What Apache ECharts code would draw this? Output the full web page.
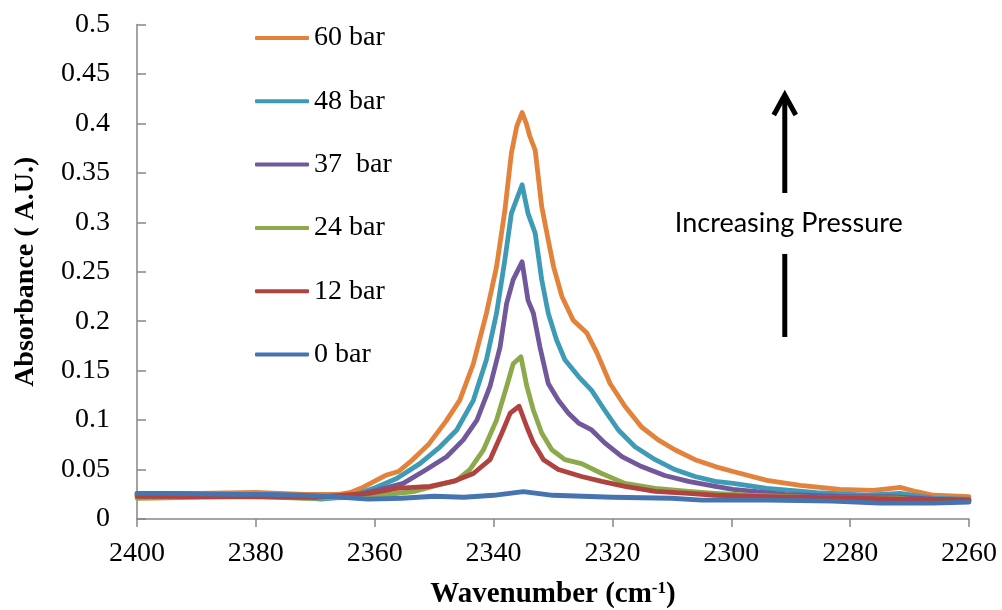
<!DOCTYPE html>
<html>
<head>
<meta charset="utf-8">
<script src="https://cdn.jsdelivr.net/npm/echarts@6/dist/echarts.min.js"></script>
<style>html,body{margin:0;padding:0;background:#fff;}#c{width:1002px;height:610px;}</style>
</head>
<body>
<div id="c"></div>
<script>
// ---- data ----
const seriesNames = ['60 bar', '48 bar', '37  bar', '24 bar', '12 bar', '0 bar'];
const seriesColors = ['#E3823B', '#3E9BB5', '#71589A', '#8CAA4B', '#B0433F', '#4574B0'];

const wn60 = [2400,2390,2380,2372,2366,2364,2362,2358,2356,2354,2351,2348,2345.7,2343.4,2341.2,2339.5,2338.1,2337.0,2336.1,2335.2,2334.5,2333.9,2333.0,2331.9,2330.8,2329.9,2328.5,2326.6,2324.3,2322.6,2320.4,2317.9,2315.1,2312.3,2309.5,2306.1,2302.7,2299.7,2294,2288.4,2281.7,2276.1,2273,2271.6,2268.8,2266,2260];
const abs60 = [0.026,0.026,0.027,0.025,0.025,0.027,0.032,0.0445,0.048,0.058,0.075,0.099,0.120,0.157,0.208,0.255,0.312,0.370,0.397,0.411,0.400,0.387,0.373,0.316,0.282,0.255,0.225,0.201,0.188,0.168,0.137,0.114,0.093,0.080,0.070,0.060,0.053,0.048,0.039,0.034,0.030,0.029,0.031,0.032,0.0276,0.024,0.0225];

const wn48 = [2400,2385,2375,2369,2364,2360.2,2356.3,2352.4,2349,2346.2,2343.4,2341.2,2339.5,2338.1,2337.0,2335.2,2334.2,2333.0,2331.9,2330.8,2329.4,2328.0,2325.7,2323.5,2321.3,2319.0,2316.2,2312.8,2309.5,2306.1,2302.7,2299.7,2294,2285.6,2277.2,2271.6,2266,2260];
const abs48 = [0.025,0.025,0.023,0.020,0.023,0.031,0.041,0.056,0.073,0.090,0.120,0.161,0.208,0.262,0.309,0.338,0.309,0.289,0.242,0.208,0.181,0.161,0.144,0.130,0.110,0.090,0.073,0.060,0.050,0.043,0.038,0.036,0.031,0.0266,0.024,0.026,0.021,0.020];

const wn37 = [2400,2385,2372,2364,2359.7,2355.2,2351.3,2347.9,2345.1,2342.8,2340.6,2338.9,2337.8,2336.7,2335.2,2334.2,2333.3,2332.2,2330.8,2329.1,2327.4,2325.7,2323.5,2321.3,2318.4,2315.1,2311.2,2307.2,2302.7,2299.7,2291,2280,2273,2266,2260];
const abs37 = [0.024,0.024,0.022,0.023,0.029,0.036,0.050,0.063,0.080,0.100,0.134,0.174,0.218,0.242,0.260,0.221,0.208,0.174,0.137,0.120,0.107,0.097,0.090,0.077,0.063,0.053,0.044,0.038,0.033,0.030,0.025,0.0225,0.0225,0.020,0.019];

const wn24 = [2400,2390,2380,2372,2362,2353.5,2349.6,2346.2,2344,2341.7,2339.5,2337.8,2336.7,2335.4,2334.4,2333.3,2331.9,2330.2,2328,2325.2,2321.8,2317.9,2312.8,2307.2,2302.7,2297,2283,2272,2266,2260];
const abs24 = [0.021,0.022,0.023,0.021,0.022,0.0276,0.034,0.039,0.050,0.070,0.100,0.134,0.157,0.164,0.134,0.110,0.087,0.070,0.060,0.056,0.046,0.036,0.031,0.028,0.026,0.024,0.021,0.021,0.017,0.018];

const wn12 = [2400,2380,2370,2361,2356.3,2350.7,2346.8,2343.4,2340.6,2338.6,2337.2,2335.7,2334.4,2333.3,2331.6,2329.1,2325.2,2321.8,2317.9,2312.8,2307.2,2302.7,2294,2280,2270,2260];
const abs12 = [0.023,0.0225,0.022,0.026,0.031,0.033,0.038,0.046,0.060,0.087,0.107,0.114,0.093,0.077,0.060,0.050,0.043,0.038,0.033,0.028,0.026,0.024,0.0225,0.021,0.020,0.019];

const wn0 = [2400,2394.7,2383.5,2377.9,2372.3,2366.7,2361.1,2355.5,2350,2345,2340,2335,2330,2320,2310,2305,2294,2283,2275,2266,2260];
const abs0 = [0.026,0.026,0.025,0.025,0.024,0.0225,0.020,0.021,0.023,0.022,0.024,0.0276,0.024,0.022,0.021,0.019,0.019,0.018,0.016,0.016,0.017];

const xTicks = [2400, 2380, 2360, 2340, 2320, 2300, 2280, 2260];
const yTicks = [0, 0.05, 0.1, 0.15, 0.2, 0.25, 0.3, 0.35, 0.4, 0.45, 0.5];

// annotation (data coordinates)
const arrowWn = 2291;
const arrowTop = 0.4307, arrowUpperEnd = 0.3296, arrowLowerStart = 0.268, arrowBottom = 0.184;
const annotationText = 'Increasing Pressure';
const annotationY = 0.299;

const wnList = [wn60, wn48, wn37, wn24, wn12, wn0];
const absList = [abs60, abs48, abs37, abs24, abs12, abs0];

const chart = echarts.init(document.getElementById('c'), null, {renderer: 'canvas'});
const serif = '"Liberation Serif", "Times New Roman", serif';
const axisColor = '#868686';

const series = seriesNames.map((name, i) => ({
  name: name,
  type: 'line',
  showSymbol: false,
  symbol: 'none',
  smooth: false,
  color: seriesColors[i],
  lineStyle: {width: 4.8, color: seriesColors[i], cap: 'round', join: 'round'},
  data: wnList[i].map((w, j) => [w, absList[i][j]]),
  animation: false
}));

chart.setOption({
  animation: false,
  backgroundColor: '#fff',
  grid: {left: 137, right: 33, top: 24.5, bottom: 91, containLabel: false, outerBoundsMode: 'none'},
  legend: {
    orient: 'vertical',
    left: 250,
    top: 19,
    itemWidth: 54,
    itemHeight: 4,
    itemGap: 35.3,
    icon: 'roundRect',
    textStyle: {fontFamily: serif, fontSize: 28, color: '#000', lineHeight: 26},
    data: seriesNames
  },
  xAxis: {
    type: 'value',
    inverse: true,
    min: 2260,
    max: 2400,
    interval: 20,
    axisLine: {show: true, lineStyle: {color: axisColor, width: 1.5}},
    axisTick: {show: true, inside: false, length: 8, lineStyle: {color: axisColor, width: 1.5}},
    splitLine: {show: false},
    axisLabel: {fontFamily: serif, fontSize: 28, color: '#000', margin: 21,
      formatter: v => xTicks.includes(v) ? String(v) : ''},
    name: 'Wavenumber (cm{sup|-1})',
    nameLocation: 'middle',
    nameGap: 61,
    nameTextStyle: {fontFamily: serif, fontSize: 29, fontWeight: 'bold', color: '#000',
      rich: {sup: {fontFamily: serif, fontSize: 17, fontWeight: 'bold', color: '#000', verticalAlign: 'top', padding: [0, 0, 13, 0]}}}
  },
  yAxis: {
    type: 'value',
    min: 0,
    max: 0.5,
    interval: 0.05,
    axisLine: {show: true, lineStyle: {color: axisColor, width: 1.5}},
    axisTick: {show: true, inside: true, length: 9, lineStyle: {color: axisColor, width: 1.5}},
    splitLine: {show: false},
    axisLabel: {fontFamily: serif, fontSize: 28, color: '#000', margin: 27,
      formatter: v => {
        const t = yTicks.find(y => Math.abs(y - v) < 1e-9);
        return t === undefined ? '' : String(t);
      }},
    name: 'Absorbance ( A.U.)',
    nameLocation: 'middle',
    nameRotate: 90,
    nameGap: 97,
    nameTextStyle: {fontFamily: serif, fontSize: 28, fontWeight: 'bold', color: '#000'}
  },
  series: series
});

function drawAnnotation() {
  const p = (v) => chart.convertToPixel({gridIndex: 0}, [arrowWn, v]);
  const top = p(arrowTop), upEnd = p(arrowUpperEnd), lowStart = p(arrowLowerStart), bot = p(arrowBottom);
  const txt = p(annotationY);
  const x = top[0];
  chart.setOption({
    graphic: [
      {type: 'line', shape: {x1: x, y1: upEnd[1], x2: x, y2: top[1] + 3}, style: {stroke: '#000', lineWidth: 5}, z: 100},
      {type: 'polyline', shape: {points: [[x - 11, top[1] + 22], [x, top[1] + 2], [x + 11, top[1] + 22]]},
        style: {stroke: '#000', lineWidth: 5, fill: null, lineJoin: 'miter'}, z: 100},
      {type: 'line', shape: {x1: x, y1: lowStart[1], x2: x, y2: bot[1]}, style: {stroke: '#000', lineWidth: 5}, z: 100},
      {type: 'text', x: x + 4, y: txt[1], style: {text: annotationText, fill: '#000', font: '27px Lato, "Open Sans", sans-serif',
        textAlign: 'center', textVerticalAlign: 'middle'}, z: 100}
    ]
  });
}
drawAnnotation();
</script>
</body>
</html>
